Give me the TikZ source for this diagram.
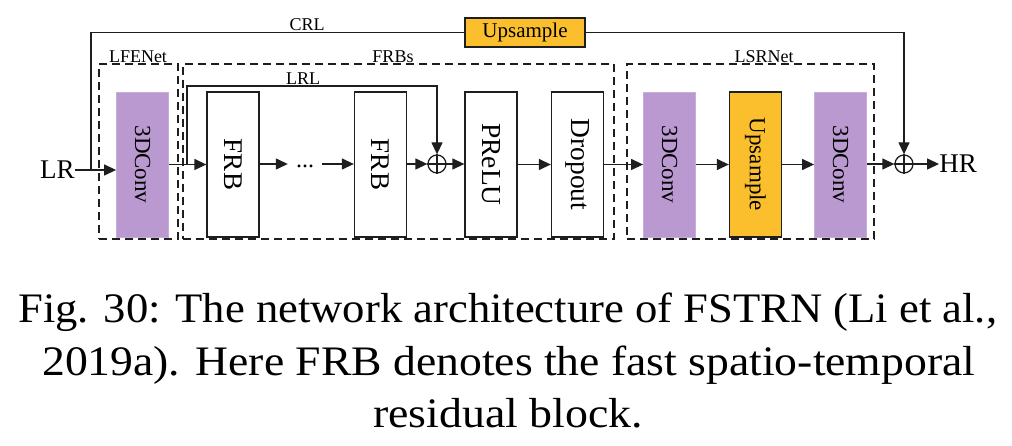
\documentclass[tikz,border=0pt]{standalone}
\usepackage{fontspec}
\setmainfont{Liberation Serif}
\usepackage{graphicx}
\usetikzlibrary{arrows.meta}
\definecolor{cpurple}{RGB}{185,153,207}
\definecolor{corange}{RGB}{251,191,45}
\definecolor{cline}{RGB}{30,30,30}
\begin{document}
\begin{tikzpicture}[x=1pt,y=-1pt,
  arr/.style={-{Triangle[length=12pt,width=11pt]}, line width=1.3pt, draw=cline},
  ln/.style={line width=1.3pt, draw=cline},
  blk/.style={minimum width=52pt, minimum height=145pt, inner sep=0pt},
  wblk/.style={blk, draw=cline, line width=1.3pt, fill=white},
  pblk/.style={blk, fill=cpurple, draw=cpurple!80!white, line width=0.8pt},
  oblk/.style={blk, fill=corange, draw=cline, line width=1.3pt},
  grp/.style={draw=cline, line width=1.4pt, dash pattern=on 8pt off 5pt, inner sep=0pt, minimum height=175pt},
  glab/.style={font=\fontsize{18}{20}\selectfont, inner sep=0pt},
  opl/.style={circle, draw=cline, line width=1.3pt, minimum size=18pt, inner sep=0pt},
  captxt/.style={font=\fontsize{42}{50}\selectfont, inner sep=0pt, anchor=base west}
]
\useasboundingbox (0,0) rectangle (1012,446);

% dashed groups
\node[grp, minimum width=79pt] (gl) at (138.5,151.5) {};
\node[grp, minimum width=431pt] (gf) at (398.5,151.5) {};
\node[grp, minimum width=247pt] (gs) at (750.5,151.5) {};
\node[glab] (gll) at (138,57) {LFENet};
\node[glab] (gfl) at (393,57) {FRBs};
\node[glab] (gsl) at (764,57) {LSRNet};

% blocks
\node[pblk, font=\fontsize{23}{25}\selectfont] (c1) at (142.5,164.5) {\rotatebox{-90}{3DConv}};
\node[wblk, font=\fontsize{27}{29}\selectfont] (f1) at (233,164.5) {\rotatebox{-90}{FRB}};
\node[inner xsep=8pt, inner ysep=0pt, font=\fontsize{24}{26}\selectfont, minimum height=10pt] (dots) at (305,166) {\raisebox{-2pt}{...}};
\node[wblk, font=\fontsize{27}{29}\selectfont] (f2) at (380.5,164.5) {\rotatebox{-90}{FRB}};
\node[opl] (p1) at (437,164) {};
\node[wblk, font=\fontsize{27.5}{29}\selectfont] (pr) at (491,164.5) {\rotatebox{-90}{PReLU}};
\node[wblk, font=\fontsize{27.5}{29}\selectfont] (dr) at (577.5,164.5) {\rotatebox{-90}{Dropout}};
\node[pblk, font=\fontsize{23}{25}\selectfont] (c2) at (669.5,164.5) {\rotatebox{-90}{3DConv}};
\node[oblk, font=\fontsize{23}{25}\selectfont] (u2) at (755.5,164.5) {\rotatebox{-90}{Upsample}};
\node[pblk, font=\fontsize{23}{25}\selectfont] (c3) at (840.5,164.5) {\rotatebox{-90}{3DConv}};
\node[opl] (p2) at (904,164) {};
\node[inner sep=0pt, font=\fontsize{27}{29}\selectfont] (hr) at (958,164) {HR};
\node[inner sep=0pt, font=\fontsize{27}{29}\selectfont] (lr) at (57.5,170) {LR};
\node[draw=cline, line width=1.3pt, fill=corange, minimum width=120pt, minimum height=29pt, inner sep=0pt, font=\fontsize{21}{23}\selectfont] (u1) at (525,32.5) {Upsample};

% oplus crosses
\draw[line width=1.1pt, draw=cline] (p1.north) -- (p1.south) (p1.west) -- (p1.east);
\draw[line width=1.1pt, draw=cline] (p2.north) -- (p2.south) (p2.west) -- (p2.east);

% main path
\draw[arr] (lr.east) -- (c1.west |- lr.east);
\draw[arr] (c1) -- (f1);
\draw[arr] (f1.east |- p1) -- (dots.west |- p1);
\draw[arr] (dots.east |- p1) -- (f2.west |- p1);
\draw[arr] (f2.east |- p1) -- (p1.west);
\draw[arr] (p1.east) -- (pr.west |- p1);
\draw[arr] (pr) -- (dr);
\draw[arr] (dr) -- (c2);
\draw[arr] (c2) -- (u2);
\draw[arr] (u2) -- (c3);
\draw[arr] (c3.east |- p2) -- (p2.west);
\draw[arr] (p2.east) -- (hr.west);

% LRL
\coordinate (lrls) at (187,164.5);
\coordinate (lrlt) at (437,86);
\draw[arr] (lrls) |- (lrlt) -- (p1.north);
\node[glab] (lrl) at (303,79) {LRL};

% CRL
\coordinate (crls) at (91,170);
\draw[ln] (crls) |- (u1.west);
\draw[arr] (u1.east) -| (p2.north);
\node[glab] (crl) at (307,25) {CRL};

% caption
\node[captxt] (cap1) at (18,323) {\resizebox{979pt}{\height}{Fig. 30: The network architecture of FSTRN (Li et al.,}};
\node[captxt] (cap2) at (42,375) {\resizebox{933pt}{\height}{2019a). Here FRB denotes the fast spatio-temporal}};
\node[captxt] (cap3) at (373,427) {\resizebox{270pt}{\height}{residual block.}};
\end{tikzpicture}
\end{document}
